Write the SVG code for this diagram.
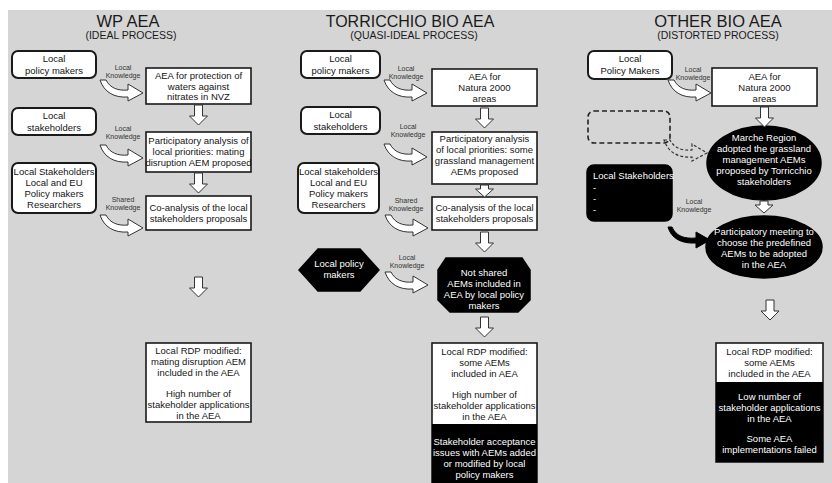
<svg xmlns="http://www.w3.org/2000/svg" xmlns:xlink="http://www.w3.org/1999/xlink" width="832" height="483" viewBox="0 0 832 483">
<style>
.t{font-family:"Liberation Sans",Arial,sans-serif;font-size:9.5px;fill:#151515;text-anchor:middle}
.w{fill:#fff}
.lbl{font-size:7px;fill:#333}
.ttl{font-size:16.5px;fill:#1a1a1a}
.sub{font-size:10.5px;fill:#1a1a1a}
.box{fill:#fff;stroke:#1a1a1a;stroke-width:1.6}
.rbox{fill:#fff;stroke:#1a1a1a;stroke-width:2}
.blk{fill:#000;stroke:#000;stroke-width:1.5}
.arr{fill:#fff;stroke:#333;stroke-width:1}
.darr{fill:none;stroke:#333;stroke-width:1.2;stroke-dasharray:3 2}
.barr{fill:#000;stroke:#000;stroke-width:1}
.dbox{fill:none;stroke:#222;stroke-width:1.6;stroke-dasharray:5 3}
</style>
<defs>
<path id="carr" d="M0,0 L6,0 C10,8 18,11 28,10 L28,4 L43,13 L28,21 L28,17 C14,18 4,12 0,0 Z"/>
<path id="barrow" d="M0,0 L4,0 C8,9 16,12 28,11 L28,5 L42,13 L28,21 L28,16 C13,17 3,11 0,0 Z"/>
<path id="down" d="M-4,0 L4,0 L4,11 L9,11 L0,20 L-9,11 L-4,11 Z"/>
<path id="downs" d="M-4,0 L4,0 L4,4 L9,4 L0,12 L-9,4 L-4,4 Z"/>
</defs>
<rect x="0" y="0" width="832" height="483" fill="#fff"/>
<rect x="8" y="10" width="824" height="473" fill="#d5d5d5"/>

<!-- Titles -->
<g id="titles">
<text class="t ttl" x="128" y="27">WP AEA</text>
<text class="t sub" x="131" y="39">(IDEAL PROCESS)</text>
<text class="t ttl" x="410" y="27" style="font-size:16px">TORRICCHIO BIO AEA</text>
<text class="t sub" x="414" y="39">(QUASI-IDEAL PROCESS)</text>
<text class="t ttl" x="718" y="27">OTHER BIO AEA</text>
<text class="t sub" x="718" y="39">(DISTORTED PROCESS)</text>
</g>

<!-- Column 1 -->
<g id="c1-policy"><rect class="rbox" x="12" y="51" width="84" height="27" rx="6"/>
<text class="t" x="54" y="62">Local</text><text class="t" x="54" y="74">policy makers</text></g>
<g id="c1-aea"><rect class="box" x="146" y="68" width="105" height="36"/>
<text class="t" x="198.5" y="79">AEA for protection of</text><text class="t" x="198.5" y="89.5">waters against</text><text class="t" x="198.5" y="100">nitrates in NVZ</text></g>
<g id="c1-stake"><rect class="rbox" x="12" y="108" width="84" height="27" rx="6"/>
<text class="t" x="54" y="119">Local</text><text class="t" x="54" y="131">stakeholders</text></g>
<g id="c1-part"><rect class="box" x="146" y="132" width="105" height="40"/>
<text class="t" x="198.5" y="144">Participatory analysis of</text><text class="t" x="198.5" y="155">local priorities: mating</text><text class="t" x="198.5" y="166">disruption AEM proposed</text></g>
<g id="c1-all"><rect class="rbox" x="12" y="163" width="84" height="50" rx="6"/>
<text class="t" x="54" y="175">Local Stakeholders</text><text class="t" x="54" y="186">Local and EU</text><text class="t" x="54" y="197">Policy makers</text><text class="t" x="54" y="208">Researchers</text></g>
<g id="c1-co"><rect class="box" x="146" y="196" width="105" height="34"/>
<text class="t" x="198.5" y="211">Co-analysis of the local</text><text class="t" x="198.5" y="222">stakeholders proposals</text></g>
<g id="c1-final"><rect class="box" x="146" y="343" width="105" height="79"/>
<text class="t" x="198.5" y="354" font-size="9">Local RDP modified:</text><text class="t" x="198.5" y="365" font-size="9">mating disruption AEM</text><text class="t" x="198.5" y="376" font-size="9">included in the AEA</text><text class="t" x="198.5" y="397" font-size="9">High number of</text><text class="t" x="198.5" y="408" font-size="9">stakeholder applications</text><text class="t" x="198.5" y="419" font-size="9">in the AEA</text></g>

<!-- Column 2 -->
<g id="c2-policy"><rect class="rbox" x="301" y="51" width="79" height="27" rx="6"/>
<text class="t" x="340.5" y="62">Local</text><text class="t" x="340.5" y="74">policy makers</text></g>
<g id="c2-aea"><rect class="box" x="432" y="69" width="105" height="37"/>
<text class="t" x="484.5" y="80">AEA for</text><text class="t" x="484.5" y="91">Natura 2000</text><text class="t" x="484.5" y="102">areas</text></g>
<g id="c2-stake"><rect class="rbox" x="301" y="107" width="79" height="27" rx="6"/>
<text class="t" x="340.5" y="118">Local</text><text class="t" x="340.5" y="130">stakeholders</text></g>
<g id="c2-part"><rect class="box" x="432" y="132" width="105" height="52"/>
<text class="t" x="484.5" y="142">Participatory analysis</text><text class="t" x="484.5" y="153">of local priorities: some</text><text class="t" x="484.5" y="164">grassland management</text><text class="t" x="484.5" y="175">AEMs proposed</text></g>
<g id="c2-all"><rect class="rbox" x="298" y="163" width="81" height="50" rx="6"/>
<text class="t" x="338.5" y="175">Local stakeholders</text><text class="t" x="338.5" y="186">Local and EU</text><text class="t" x="338.5" y="197">Policy makers</text><text class="t" x="338.5" y="208">Researchers</text></g>
<g id="c2-co"><rect class="box" x="432" y="197" width="105" height="33"/>
<text class="t" x="484.5" y="211">Co-analysis of the local</text><text class="t" x="484.5" y="222">stakeholders proposals</text></g>
<g id="c2-lpm"><polygon class="blk" points="299,270 318,249 360,249 379,270 360,291 318,291"/>
<text class="t w" x="339" y="267">Local policy</text><text class="t w" x="339" y="278">makers</text></g>
<g id="c2-notshared"><polygon class="blk" points="446,258 522,258 530,270 530,300 518,312 450,312 438,300 438,270"/>
<text class="t w" x="484" y="276">Not shared</text><text class="t w" x="484" y="287">AEMs included in</text><text class="t w" x="484" y="298">AEA by local policy</text><text class="t w" x="484" y="309">makers</text></g>
<g id="c2-final"><rect class="box" x="432" y="343" width="105" height="142"/>
<rect x="432" y="424" width="105" height="59" fill="#000"/>
<text class="t" x="484.5" y="355" font-size="9">Local RDP modified:</text><text class="t" x="484.5" y="366" font-size="9">some AEMs</text><text class="t" x="484.5" y="377" font-size="9">included in AEA</text><text class="t" x="484.5" y="398" font-size="9">High number of</text><text class="t" x="484.5" y="409" font-size="9">stakeholder applications</text><text class="t" x="484.5" y="420" font-size="9">in the AEA</text>
<text class="t w" x="484.5" y="445" font-size="9">Stakeholder acceptance</text><text class="t w" x="484.5" y="456" font-size="9">issues with AEMs added</text><text class="t w" x="484.5" y="467" font-size="9">or modified by local</text><text class="t w" x="484.5" y="478" font-size="9">policy makers</text></g>

<!-- Column 3 -->
<g id="c3-policy"><rect class="rbox" x="588" y="51" width="84" height="28" rx="6"/>
<text class="t" x="630" y="62">Local</text><text class="t" x="630" y="74">Policy Makers</text></g>
<g id="c3-aea"><rect class="box" x="712" y="68" width="105" height="38"/>
<text class="t" x="764.5" y="80">AEA for</text><text class="t" x="764.5" y="91">Natura 2000</text><text class="t" x="764.5" y="102">areas</text></g>
<g id="c3-empty"><rect class="dbox" x="588" y="111" width="82" height="32" rx="6"/></g>
<g id="c3-marche"><ellipse class="blk" cx="764" cy="163" rx="57" ry="37"/>
<text class="t w" x="764" y="141">Marche Region</text><text class="t w" x="764" y="152">adopted the grassland</text><text class="t w" x="764" y="163">management AEMs</text><text class="t w" x="764" y="174">proposed by Torricchio</text><text class="t w" x="764" y="185">stakeholders</text></g>
<g id="c3-stake"><rect class="blk" x="587" y="165" width="85" height="56" rx="7"/>
<text class="t w" x="593" y="179" style="text-anchor:start">Local Stakeholders</text><text class="t w" x="593" y="191" style="text-anchor:start">-</text><text class="t w" x="593" y="202" style="text-anchor:start">-</text><text class="t w" x="593" y="213" style="text-anchor:start">-</text></g>
<g id="c3-meeting"><ellipse class="blk" cx="764" cy="247" rx="58" ry="31"/>
<text class="t w" x="764" y="235">Participatory meeting to</text><text class="t w" x="764" y="246">choose the predefined</text><text class="t w" x="764" y="257">AEMs to be adopted</text><text class="t w" x="764" y="268">in the AEA</text></g>
<g id="c3-final"><rect class="box" x="716" y="343" width="107" height="119"/>
<rect x="716" y="382" width="107" height="80" fill="#000"/>
<text class="t" x="769.5" y="355" font-size="9">Local RDP modified:</text><text class="t" x="769.5" y="366" font-size="9">some AEMs</text><text class="t" x="769.5" y="377" font-size="9">included in the AEA</text>
<text class="t w" x="769.5" y="400" font-size="9">Low number of</text><text class="t w" x="769.5" y="411" font-size="9">stakeholder applications</text><text class="t w" x="769.5" y="422" font-size="9">in the AEA</text><text class="t w" x="769.5" y="442" font-size="9">Some AEA</text><text class="t w" x="769.5" y="453" font-size="9">implementations failed</text></g>

<!-- Connectors -->
<g id="connectors">
<use href="#carr" class="arr" transform="translate(100,80)"/>
<use href="#carr" class="arr" transform="translate(100,145)"/>
<use href="#carr" class="arr" transform="translate(100,215)"/>
<use href="#down" class="arr" transform="translate(198.5,105)"/>
<use href="#down" class="arr" transform="translate(198.5,173)"/>
<use href="#down" class="arr" transform="translate(198.5,277)"/>

<use href="#carr" class="arr" transform="translate(384,80)"/>
<use href="#carr" class="arr" transform="translate(384,144)"/>
<use href="#carr" class="arr" transform="translate(385,215)"/>
<use href="#carr" class="arr" transform="translate(385,272)"/>
<use href="#down" class="arr" transform="translate(484.5,108)"/>
<use href="#downs" class="arr" transform="translate(484.5,185)"/>
<use href="#down" class="arr" transform="translate(484.5,232)"/>
<use href="#down" class="arr" transform="translate(484.5,317)"/>

<use href="#carr" class="arr" transform="translate(668,80)"/>
<use href="#carr" class="darr" transform="translate(664,140)"/>
<use href="#barrow" class="barr" transform="translate(668,227)"/>
<use href="#down" class="arr" transform="translate(764.5,107)"/>
<use href="#downs" class="arr" transform="translate(764,201)"/>
<use href="#down" class="arr" transform="translate(770,300)"/>

<text class="t lbl" x="123" y="70">Local</text><text class="t lbl" x="123" y="78">Knowledge</text>
<text class="t lbl" x="123" y="131">Local</text><text class="t lbl" x="123" y="139">Knowledge</text>
<text class="t lbl" x="123" y="202">Shared</text><text class="t lbl" x="123" y="210">Knowledge</text>
<text class="t lbl" x="406" y="71">Local</text><text class="t lbl" x="406" y="79">Knowledge</text>
<text class="t lbl" x="408" y="129">Local</text><text class="t lbl" x="408" y="137">Knowledge</text>
<text class="t lbl" x="406" y="203">Shared</text><text class="t lbl" x="406" y="211">Knowledge</text>
<text class="t lbl" x="407" y="260">Local</text><text class="t lbl" x="407" y="268">Knowledge</text>
<text class="t lbl" x="693" y="72">Local</text><text class="t lbl" x="693" y="80">Knowledge</text>
<text class="t lbl" x="694" y="204">Local</text><text class="t lbl" x="694" y="212">Knowledge</text>
</g>
</svg>
